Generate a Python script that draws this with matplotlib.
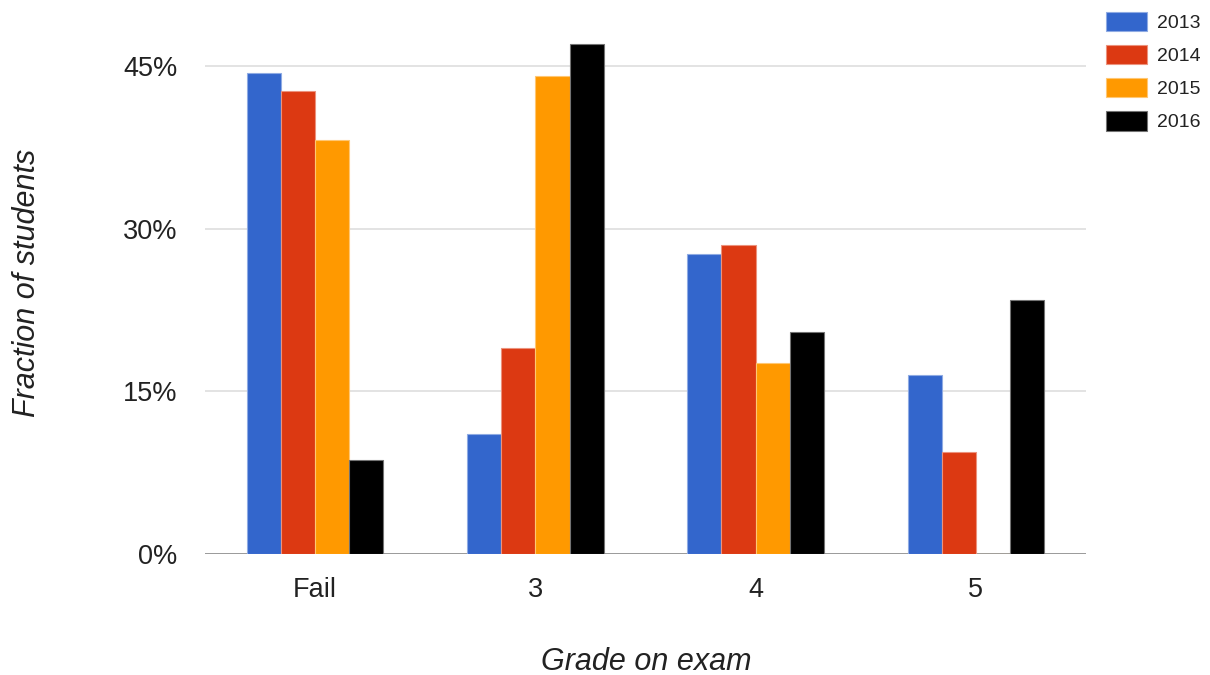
import matplotlib
matplotlib.use("Agg")
import matplotlib.pyplot as plt
import numpy as np
from matplotlib.colors import to_rgb

# Exam grade distribution by year (percent of students)
grades = ["Fail", "3", "4", "5"]
years = ["2013", "2014", "2015", "2016"]
pct_2013 = [44.3, 11.1, 27.7, 16.5]
pct_2014 = [42.7, 19.0, 28.5, 9.4]
pct_2015 = [38.2, 44.1, 17.6, 0.0]
pct_2016 = [8.7, 47.0, 20.5, 23.4]
series = [pct_2013, pct_2014, pct_2015, pct_2016]
colors = ["#3366cc", "#dc3912", "#ff9900", "#000000"]
y_ticks = [0, 15, 30, 45]
y_tick_labels = ["0%", "15%", "30%", "45%"]

plt.rcParams["font.family"] = ["Liberation Sans", "DejaVu Sans"]
text_color = "#222222"

fig = plt.figure(figsize=(12.1, 6.75), dpi=100)
ax = fig.add_axes([205 / 1210, (675 - 554.3) / 675, 881 / 1210, 521 / 675])

x = np.arange(len(grades))
group_width = 0.62
bar_w = group_width / len(series)


def lighten(c, amt=0.45):
    r, g, b = to_rgb(c)
    return (r + (1 - r) * amt, g + (1 - g) * amt, b + (1 - b) * amt)


for i, (vals, col, yr) in enumerate(zip(series, colors, years)):
    offs = (i - (len(series) - 1) / 2) * bar_w
    ax.bar(x + offs, vals, width=bar_w, color=col, edgecolor=lighten(col),
           linewidth=0.8, label=yr, zorder=5)

ax.set_xlim(-0.5, len(grades) - 0.5)
ax.set_ylim(0, 48)
ax.set_yticks(y_ticks)
ax.set_yticklabels(y_tick_labels)
ax.set_xticks(x)
ax.set_xticklabels(grades)
ax.tick_params(axis="both", length=0, labelsize=19.5, colors=text_color)
ax.tick_params(axis="x", pad=16)
ax.tick_params(axis="y", pad=20)

for s in ax.spines.values():
    s.set_visible(False)
ax.grid(False)
for t in y_ticks[1:]:
    ax.axhline(t, color="#e0e0e0", linewidth=1.3, zorder=1)
ax.axhline(0, color="#9a9a9a", linewidth=1.4, zorder=4)

fig.text(646 / 1210, 1 - 662 / 675, "Grade on exam", ha="center", va="center",
         fontsize=22, style="italic", color=text_color)
fig.text(27 / 1210, 1 - 283 / 675, "Fraction of students", ha="center", va="center",
         rotation=90, fontsize=22, style="italic", color=text_color)

leg = ax.legend(loc="upper left", bbox_to_anchor=(1106 / 1210, 1 - 12 / 675),
                bbox_transform=fig.transFigure, frameon=False, fontsize=14,
                handlelength=2.11, handleheight=1.15, handletextpad=0.5,
                labelspacing=0.66, borderpad=0, borderaxespad=0)
for t in leg.get_texts():
    t.set_color(text_color)

fig.savefig("out.png", dpi=100, facecolor="white")
